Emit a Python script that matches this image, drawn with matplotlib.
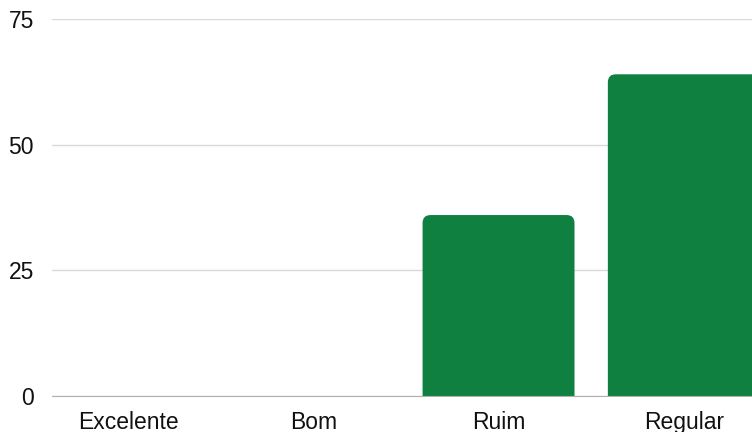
import matplotlib.pyplot as plt
from matplotlib.patches import FancyBboxPatch

plt.rcParams["font.family"] = ["Liberation Sans", "DejaVu Sans"]

categories = ["Excelente", "Bom", "Ruim", "Regular"]
values = [0, 0, 36, 64]
yticks = [0, 25, 50, 75]

fig = plt.figure(figsize=(7.52, 4.32), dpi=100)
ax = fig.add_axes([52 / 752, 1 - 396 / 432, 1 - 52 / 752, (396 - 19) / 432])
ax.set_xlim(-0.41, 3.368)
ax.set_ylim(0, 75)

# rounded top corners: radius in pixels converted to data units
px_x = 1 / 185.3
px_y = 75 / 377
width = 0.82
for i, v in enumerate(values):
    if v <= 0:
        continue
    box = FancyBboxPatch(
        (i - width / 2, -10), width, v + 10,
        boxstyle="round,pad=0,rounding_size=%f" % (8 * px_x),
        mutation_aspect=px_y / px_x,
        facecolor="#0f8040", edgecolor="none", zorder=3,
    )
    ax.add_patch(box)

ax.set_yticks(yticks)
ax.set_xticks(range(len(categories)))
ax.set_xticklabels(categories)
ax.tick_params(axis="both", length=0, labelsize=16.5, colors="#111111")
ax.tick_params(axis="y", pad=13)
ax.tick_params(axis="x", pad=11)
ax.grid(axis="y", color="#d9d9d9", linewidth=1, zorder=0)
for s in ["top", "right", "left"]:
    ax.spines[s].set_visible(False)
ax.spines["bottom"].set_color("#b0b0b0")
ax.spines["bottom"].set_zorder(4)

fig.savefig("out.png", dpi=100)
